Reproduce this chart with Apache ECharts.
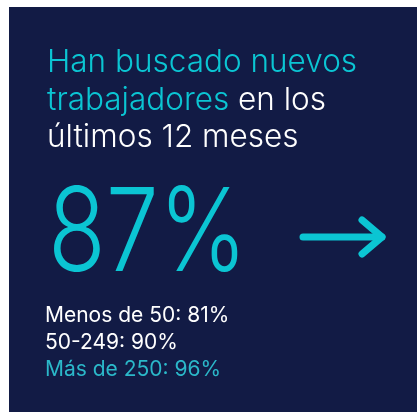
<!DOCTYPE html>
<html>
<head>
<meta charset="utf-8">
<script src="https://cdn.jsdelivr.net/npm/echarts@6/dist/echarts.min.js"></script>
<style>
    html, body { margin: 0; padding: 0; background: #fff; }
    #main { width: 417px; height: 412px; }
</style>
</head>
<body>
<div id="main"></div>
<script>
    // datos
    var titulo = ['Han buscado nuevos', 'trabajadores', ' en los', 'últimos 12 meses'];
    var total = 87;
    var tamanos = ['Menos de 50', '50-249', 'Más de 250'];
    var valores = [81, 90, 96];

    var navy = '#121b45';
    var cyan = '#0bc5d3';
    var fuente = 'Inter, "Noto Sans", sans-serif';

    var myChart = echarts.init(document.getElementById('main'));

    var lineas = tamanos.map(function (t, i) {
        var estilo = i === tamanos.length - 1 ? 'c' : 'w';
        return '{' + estilo + '|' + t + ': ' + valores[i] + '%}';
    });

    var option = {
        backgroundColor: '#fff',
        graphic: [
            {
                type: 'rect',
                shape: { x: 9, y: 7, width: 408, height: 405 },
                style: { fill: navy }
            },
            {
                type: 'text',
                left: 47,
                top: 47,
                style: {
                    text: '{c|' + titulo[0] + '}\n{c|' + titulo[1] + '}{w|' + titulo[2] + '}\n{w|' + titulo[3] + '}',
                    rich: {
                        c: { fill: cyan, fontSize: 31.5, fontFamily: fuente, fontWeight: 300, lineHeight: 37.5 },
                        w: { fill: '#ffffff', fontSize: 31.5, fontFamily: fuente, fontWeight: 300, lineHeight: 37.5 }
                    }
                }
            },
            {
                type: 'text',
                x: 48,
                y: 178,
                scaleX: 0.815,
                style: {
                    text: total + '%',
                    fill: cyan,
                    fontSize: 116,
                    fontWeight: 300,
                    fontFamily: fuente,
                    verticalAlign: 'top'
                }
            },
            {
                type: 'polyline',
                shape: { points: [[303, 237], [382, 237]] },
                style: { stroke: cyan, lineWidth: 7, lineCap: 'round', fill: null }
            },
            {
                type: 'polyline',
                shape: { points: [[362, 220], [382, 237], [362, 254]] },
                style: { stroke: cyan, lineWidth: 7, lineCap: 'round', lineJoin: 'round', fill: null }
            },
            {
                type: 'text',
                left: 45,
                top: 305,
                style: {
                    text: lineas.join('\n'),
                    rich: {
                        c: { fill: '#2bb8c9', fontSize: 21, fontFamily: fuente, lineHeight: 27 },
                        w: { fill: '#ffffff', fontSize: 21, fontFamily: fuente, lineHeight: 27 }
                    }
                }
            }
        ]
    };

    myChart.setOption(option);
</script>
</body>
</html>
